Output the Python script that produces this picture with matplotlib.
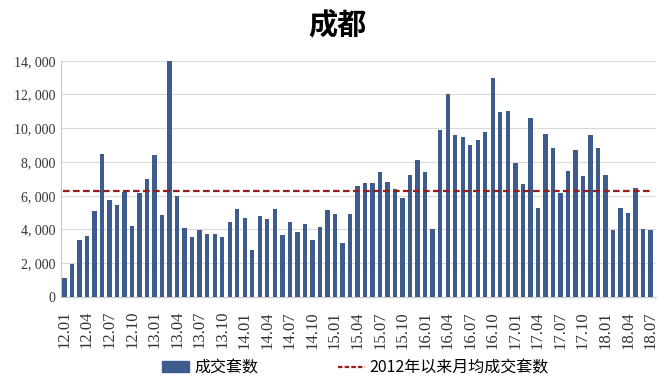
import numpy as np
import matplotlib.pyplot as plt
from matplotlib.lines import Line2D
from matplotlib.patches import Patch

plt.rcParams['font.family'] = ['Noto Sans CJK SC', 'DejaVu Sans']

# monthly transactions, 2012.01 - 2018.07
volumes = [1100, 1950, 3350, 3600, 5100, 8450, 5750, 5450, 6250, 4200, 6150, 7000,
           8400, 4850, 14000, 6000, 4100, 3550, 3950, 3750, 3750, 3550, 4450, 5200,
           4700, 2800, 4800, 4650, 5200, 3650, 4450, 3850, 4300, 3350, 4150, 5150,
           4900, 3200, 4900, 6550, 6750, 6750, 7400, 6800, 6400, 5850, 7200, 8100,
           7400, 4000, 9900, 12050, 9600, 9450, 9000, 9300, 9750, 12950, 10950, 11030,
           7950, 6700, 10600, 5300, 9650, 8800, 6150, 7450, 8700, 7150, 9600, 8850,
           7250, 3950, 5250, 4950, 6450, 4050, 3950]
avg_volume = 6280
months = ["%02d.%02d" % (12 + i // 12, i % 12 + 1) for i in range(len(volumes))]

bar_color = '#3d5b8c'
line_color = '#9b1b1b'
serif = ['Liberation Serif', 'DejaVu Serif']

fig = plt.figure(figsize=(6.72, 3.81), dpi=100)
ax = fig.add_axes([0.0908, 0.2205, 0.8852, 0.6202])

x = np.arange(len(volumes))
ax.bar(x, volumes, width=0.58, color=bar_color, zorder=3)
ax.axhline(avg_volume, xmin=0.003, xmax=0.993, color=line_color, ls=(0, (3, 1.5)), lw=1.6, zorder=4)

ax.set_xlim(-0.45, 78.7)
ax.set_ylim(0, 14000)
ax.set_yticks(range(0, 14001, 2000))
ax.set_yticklabels(["{:,}".format(v).replace(",", ", ") for v in range(0, 14001, 2000)],
                   family=serif, fontsize=10, color='#333333')
ax.set_xticks(x[::3])
ax.set_xticklabels(months[::3], rotation=90, family=serif, fontsize=12, color='#333333')
ax.tick_params(axis='y', length=0, pad=4)
ax.tick_params(axis='x', length=0, pad=10)
ax.grid(axis='y', color='#d9d9d9', lw=0.8, zorder=0)
for s in ['top', 'right']:
    ax.spines[s].set_visible(False)
ax.spines['left'].set_color('#c8c8c8')
ax.spines['bottom'].set_color('#c8c8c8')

fig.text(0.502, 0.935, "成都", ha='center', va='center', fontsize=21, fontweight='bold')

handles = [Patch(color=bar_color), Line2D([0], [0], color=line_color, ls=(0, (2, 1)), lw=1.6)]
fig.legend(handles, ["成交套数", "2012年以来月均成交套数"], loc='center', ncol=2,
           bbox_to_anchor=(0.529, 0.035), frameon=False, fontsize=11.5,
           handlelength=1.7, handleheight=0.7, columnspacing=5, handletextpad=0.3)

fig.savefig('out.png', dpi=100)
